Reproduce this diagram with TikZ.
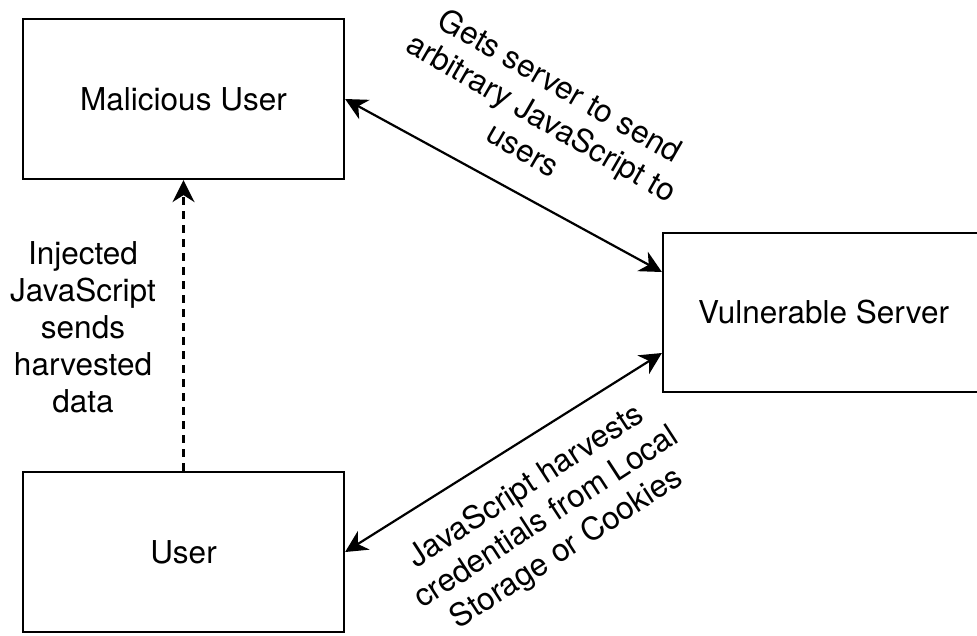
\documentclass[tikz,border=0pt]{standalone}
\usepackage{fontspec}
\setmainfont{TeX Gyre Heros}
\usetikzlibrary{arrows.meta}
\tikzset{
  box/.style={draw=black, line width=2.2pt, minimum width=321pt, minimum height=160pt, inner sep=0pt,
    font=\fontsize{31.5}{37}\selectfont},
  lbl/.style={align=center, inner sep=0pt, font=\fontsize{31.5}{37}\selectfont},
  conn/.style={line width=2.2pt, {Stealth[length=22pt,width=22pt,inset=7pt]}-{Stealth[length=22pt,width=22pt,inset=7pt]}},
  dconn/.style={line width=2.2pt, dash pattern=on 8pt off 6pt, -{Stealth[length=22pt,width=22pt,inset=7pt]}}
}
\begin{document}
\begin{tikzpicture}[x=1pt,y=-1pt]
\useasboundingbox (0,0) rectangle (977,635);
\begin{scope}
\clip (0,0) rectangle (977,635);
\node[box] (mu) at (183.5,99) {Malicious User};
\node[box] (us) at (183.5,552) {User};
\node[box, minimum height=159pt] (sv) at (823.5,312.5) {Vulnerable Server};
\end{scope}
\draw[conn] (mu.east) -- ([yshift=40.5pt]sv.west);
\draw[conn] (us.east) -- ([yshift=-40.5pt]sv.west);
\draw[dconn] (us.north) -- (mu.south);
\node[lbl, rotate=-30] (l1) at (542,117) {Gets server to send\\arbitrary JavaScript to\\users};
\node[lbl, rotate=33] (l2) at (547,518) {JavaScript harvests\\credentials from Local\\Storage or Cookies};
\node[lbl] (l3) at (83,327) {Injected\\JavaScript\\sends\\harvested\\data};
\end{tikzpicture}
\end{document}
